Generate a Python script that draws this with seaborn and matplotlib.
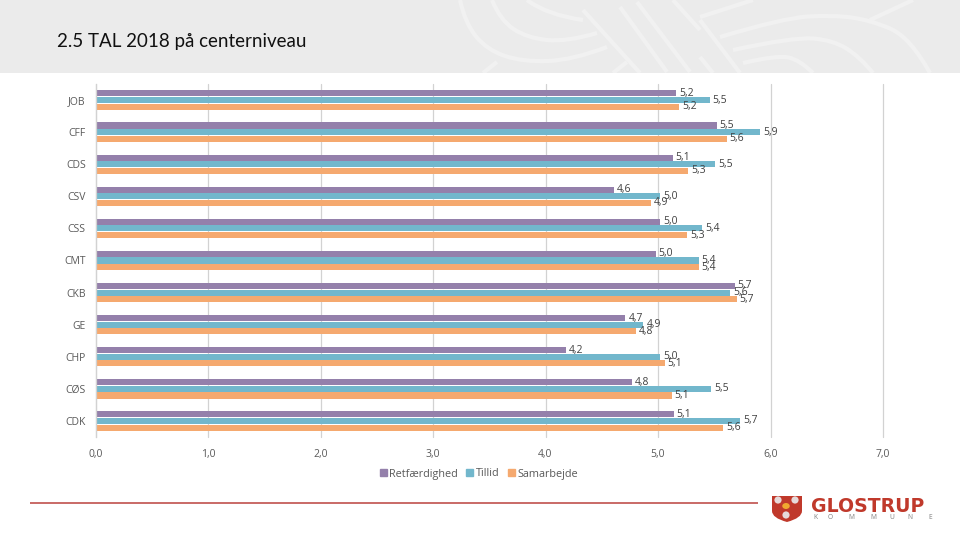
import pandas as pd
import numpy as np
import matplotlib
matplotlib.use('Agg')
import matplotlib.pyplot as plt
import seaborn as sns
from matplotlib.patches import Rectangle, PathPatch, Circle, Ellipse
from matplotlib.path import Path

centers = ['JOB', 'CFF', 'CDS', 'CSV', 'CSS', 'CMT', 'CKB', 'GE', 'CHP', 'CØS', 'CDK']
retfaerdighed = [5.16, 5.52, 5.13, 4.61, 5.02, 4.98, 5.68, 4.71, 4.18, 4.77, 5.14]
tillid = [5.46, 5.91, 5.51, 5.02, 5.39, 5.36, 5.64, 4.87, 5.02, 5.47, 5.73]
samarbejde = [5.19, 5.61, 5.27, 4.94, 5.26, 5.36, 5.70, 4.80, 5.06, 5.12, 5.58]
series = ['Retfærdighed', 'Tillid', 'Samarbejde']
colors = ['#9480AB', '#72B7CC', '#F5A96F']
x_ticks = [0, 1, 2, 3, 4, 5, 6, 7]

df = pd.DataFrame({'Center': centers, 'Retfærdighed': retfaerdighed,
                   'Tillid': tillid, 'Samarbejde': samarbejde})
df = df.melt(id_vars='Center', var_name='Serie', value_name='Score')

sns.set_theme(style='white')
plt.rcParams['font.family'] = ['Open Sans', 'DejaVu Sans']

fig = plt.figure(figsize=(9.6, 5.4), dpi=100)

# slide background in pixel coordinates
bg = fig.add_axes([0, 0, 1, 1], zorder=0)
bg.set_xlim(0, 960)
bg.set_ylim(540, 0)
bg.axis('off')
bg.add_patch(Rectangle((0, 0), 960, 73, color='#EBEBEB', lw=0))


def smooth(points):
    # quadratic curve through the midpoints of a rough outline
    verts = [points[0]]
    codes = [Path.MOVETO]
    for i in range(1, len(points) - 1):
        mid = ((points[i][0] + points[i + 1][0]) / 2, (points[i][1] + points[i + 1][1]) / 2)
        verts += [points[i], mid if i < len(points) - 2 else points[-1]]
        codes += [Path.CURVE3, Path.CURVE3]
    if len(points) == 2:
        verts.append(points[1])
        codes.append(Path.LINETO)
    return Path(verts, codes)


# faint ornament in the header
ornament = [
    [(460, 0), (465, 23), (487, 50), (523, 62), (573, 60), (607, 47)],
    [(492, 0), (500, 20), (527, 38), (567, 42), (597, 33)],
    [(527, 0), (547, 15), (583, 20)],
    [(583, 10), (640, 73)], [(620, 7), (667, 72)], [(637, 2), (690, 72)], [(673, 0), (700, 30)],
    [(483, 73), (497, 62)], [(613, 73), (627, 62)],
    [(700, 17), (753, 0)], [(870, 20), (913, 0)],
    [(720, 37), (783, 18), (833, 15), (870, 20), (910, 37), (930, 73)],
    [(733, 50), (793, 37), (833, 40), (860, 57), (873, 73)],
    [(743, 63), (777, 55), (800, 60), (813, 73)],
    [(700, 20), (740, 73)], [(700, 57), (713, 73)],
]
clip = Rectangle((0, 0), 960, 73, transform=bg.transData)
for pts in ornament:
    curve = PathPatch(smooth(pts), facecolor='none', edgecolor='#F1F1F1', lw=3)
    bg.add_patch(curve)
    curve.set_clip_path(clip)

bg.text(57, 42, '2.5 TAL 2018 på centerniveau', fontsize=13.5, color='#111111',
        family=['Lato', 'DejaVu Sans'], va='center', ha='left')

# red footer line
bg.plot([30, 758], [503, 503], color='#C0504D', lw=1.2, solid_capstyle='butt')

# Glostrup logo
shield = Path([(772, 496), (802, 496), (802, 511), (802, 518), (787, 522), (772, 518), (772, 511), (772, 496)],
              [Path.MOVETO, Path.LINETO, Path.LINETO, Path.CURVE3, Path.CURVE3, Path.CURVE3, Path.CURVE3, Path.LINETO])
bg.add_patch(PathPatch(shield, facecolor='#C0392B', edgecolor='none'))
for cx, cy in [(778, 500), (795, 500), (786, 515)]:
    bg.add_patch(Circle((cx, cy), 3.6, color='#E6DADA', lw=0))
bg.add_patch(Ellipse((786, 506), 7.5, 6, color='#F0A830', lw=0))
bg.text(811, 511.5, 'GLOSTRUP', fontsize=13.6, fontweight='bold', color='#C0392B',
        family=['DejaVu Sans'], va='baseline', ha='left')
for ch, xp in zip('KOMMUNE', [815, 830, 851, 873, 892, 910, 930]):
    bg.text(xp, 517.5, ch, fontsize=4.8, color='#7F7F7F', va='center', ha='center')

# chart
ax = fig.add_axes([95.5 / 960, 1 - 437 / 540, (883 - 95.5) / 960, 353 / 540], zorder=1)
ax.patch.set_alpha(0)
sns.barplot(data=df, y='Center', x='Score', hue='Serie', hue_order=series, palette=colors,
            width=0.62, gap=0.07, saturation=1, ax=ax, errorbar=None, legend=False,
            linewidth=0, edgecolor='none')

for cont in ax.containers:
    for bar in cont:
        val = bar.get_width()
        ax.annotate(f'{val:.1f}'.replace('.', ','), (val, bar.get_y() + bar.get_height() / 2),
                    xytext=(3, 0), textcoords='offset pixels', va='center', ha='left',
                    fontsize=7.5, color='#404040')

ax.set_xlim(0, 7)
ax.set_ylim(10.5, -0.5)
ax.set_xticks(x_ticks)
ax.set_xticklabels([f'{t:.1f}'.replace('.', ',') for t in x_ticks])
ax.set_xlabel('')
ax.set_ylabel('')
ax.grid(axis='x', color='#D2D2D2', lw=0.9, clip_on=False)
ax.set_axisbelow(True)
sns.despine(ax=ax, top=True, right=True, bottom=True, left=False)
ax.spines['left'].set_color('#D2D2D2')
ax.spines['left'].set_linewidth(0.9)
ax.tick_params(axis='x', length=0, pad=9, labelsize=7.5, labelcolor='#595959')
ax.tick_params(axis='y', length=0, pad=7, labelsize=7.5, labelcolor='#595959')

handles = [Rectangle((0, 0), 1, 1, color=c) for c in colors]
fig.legend(handles, series, loc='center', bbox_to_anchor=(479 / 960, 1 - 474 / 540), ncol=3,
           frameon=False, fontsize=7.8, handlelength=0.65, handleheight=0.65, handletextpad=0.25,
           columnspacing=0.75, labelcolor='#595959')

plt.savefig('out.png', dpi=100)
